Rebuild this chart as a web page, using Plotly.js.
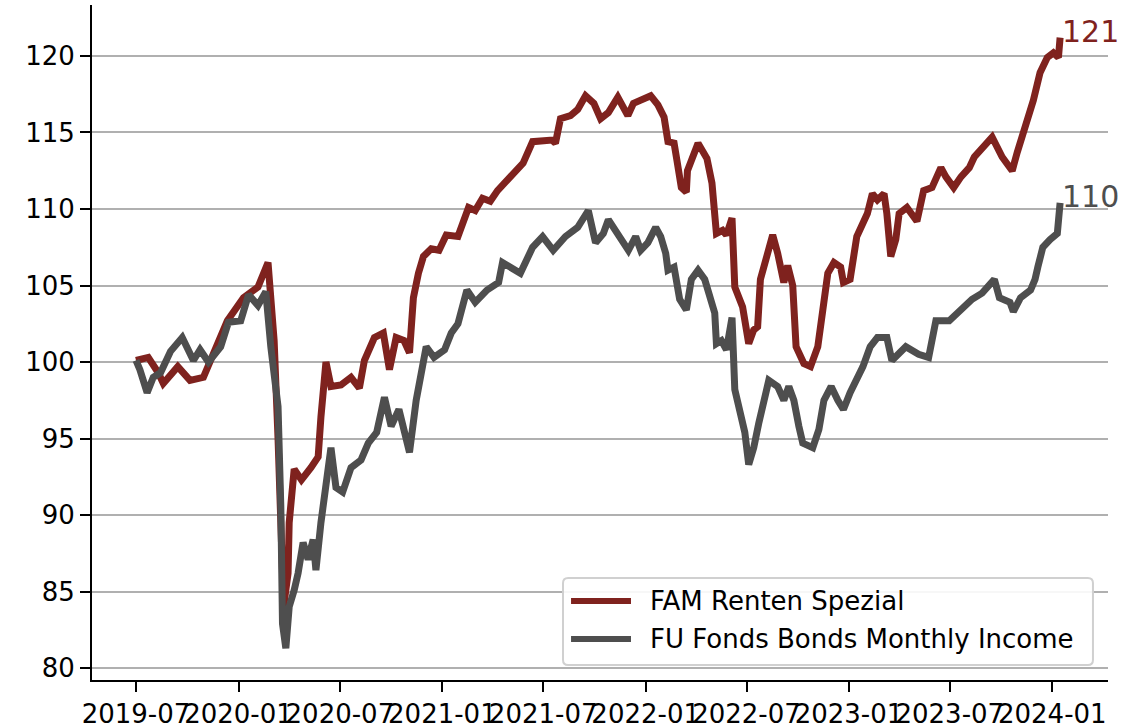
<!DOCTYPE html>
<html>
<head>
<meta charset="utf-8">
<script src="https://cdn.plot.ly/plotly-3.0.1.min.js"></script>
<style>
  html, body { margin: 0; padding: 0; background: #fff; }
  #chart { width: 1147px; height: 727px; }
</style>
</head>
<body>
<div id="chart"></div>
<script>
// FAM Renten Spezial (indexed to 100)
const famDates = [
  '2019-07-01', '2019-07-23', '2019-08-10', '2019-08-19', '2019-09-14', '2019-10-06', '2019-10-30',
  '2019-11-17', '2019-12-12', '2020-01-10', '2020-02-05', '2020-02-23', '2020-03-05', '2020-03-12',
  '2020-03-19', '2020-03-22', '2020-03-30', '2020-04-01', '2020-04-10', '2020-04-23', '2020-05-10',
  '2020-05-23', '2020-05-28', '2020-06-06', '2020-06-15', '2020-07-03', '2020-07-21', '2020-08-05',
  '2020-08-14', '2020-09-01', '2020-09-17', '2020-09-28', '2020-10-10', '2020-10-24', '2020-11-03',
  '2020-11-10', '2020-11-19', '2020-11-28', '2020-12-12', '2020-12-26', '2021-01-08', '2021-01-29',
  '2021-02-17', '2021-03-01', '2021-03-14', '2021-03-28', '2021-04-10', '2021-04-28', '2021-05-12',
  '2021-05-26', '2021-06-12', '2021-06-30', '2021-07-17', '2021-07-23', '2021-08-01', '2021-08-19',
  '2021-09-01', '2021-09-15', '2021-09-30', '2021-10-12', '2021-10-26', '2021-11-12', '2021-11-30',
  '2021-12-10', '2022-01-10', '2022-01-23', '2022-02-03', '2022-02-10', '2022-02-21', '2022-02-26',
  '2022-03-06', '2022-03-15', '2022-03-17', '2022-04-05', '2022-04-21', '2022-04-30', '2022-05-08',
  '2022-05-19', '2022-05-26', '2022-06-05', '2022-06-10', '2022-06-24', '2022-07-05', '2022-07-14',
  '2022-07-21', '2022-07-26', '2022-08-08', '2022-08-17', '2022-08-26', '2022-09-06', '2022-09-13',
  '2022-09-22', '2022-09-28', '2022-10-12', '2022-10-24', '2022-11-06', '2022-11-15', '2022-11-24',
  '2022-12-05', '2022-12-17', '2022-12-22', '2023-01-03', '2023-01-15', '2023-02-03', '2023-02-12',
  '2023-02-21', '2023-03-05', '2023-03-10', '2023-03-17', '2023-03-26', '2023-04-01', '2023-04-15',
  '2023-05-03', '2023-05-15', '2023-05-30', '2023-06-15', '2023-06-24', '2023-07-08', '2023-07-21',
  '2023-08-05', '2023-08-14', '2023-09-01', '2023-09-15', '2023-10-03', '2023-10-21', '2023-10-30',
  '2023-11-13', '2023-11-28', '2023-12-10', '2023-12-23', '2024-01-03', '2024-01-12', '2024-01-15'
];
const famValues = [
  100.1, 100.3, 99.3, 98.6, 99.7, 98.8, 99.0,
  100.6, 102.7, 104.2, 104.9, 106.5, 101.4, 95.0,
  86.0, 84.0, 86.2, 89.5, 93.0, 92.3, 93.1,
  93.8, 96.4, 100.0, 98.4, 98.5, 99.0, 98.3,
  100.1, 101.6, 101.9, 99.5, 101.6, 101.4, 100.6,
  104.2, 105.8, 106.9, 107.4, 107.3, 108.3, 108.2,
  110.1, 109.9, 110.7, 110.5, 111.2, 111.9, 112.5,
  113.0, 114.4, 114.4, 114.5, 114.3, 115.9, 116.1,
  116.5, 117.4, 116.9, 115.9, 116.3, 117.3, 116.1,
  116.9, 117.4, 116.8, 116.0, 114.4, 114.3, 113.2,
  111.4, 111.1, 112.5, 114.3, 113.3, 111.7, 108.4,
  108.6, 108.3, 109.4, 104.9, 103.6, 101.2, 102.1,
  102.3, 105.4, 107.1, 108.3, 107.1, 105.2, 106.3,
  105.0, 101.0, 99.9, 99.7, 101.0, 103.4, 105.8,
  106.5, 106.2, 105.2, 105.4, 108.2, 109.7, 111.0,
  110.6, 111.0, 109.7, 106.9, 108.0, 109.7, 110.1,
  109.2, 111.2, 111.4, 112.7, 112.1, 111.4, 112.1,
  112.7, 113.4, 114.1, 114.7, 113.4, 112.5, 113.7,
  115.2, 117.1, 118.9, 119.9, 120.2, 119.9, 121.2
];

// FU Fonds Bonds Monthly Income (indexed to 100)
const fuDates = [
  '2019-07-01', '2019-07-08', '2019-07-21', '2019-08-01', '2019-08-14', '2019-09-01', '2019-09-22',
  '2019-10-01', '2019-10-12', '2019-10-24', '2019-11-08', '2019-11-30', '2019-12-14', '2020-01-05',
  '2020-01-19', '2020-02-05', '2020-02-19', '2020-02-28', '2020-03-12', '2020-03-17', '2020-03-20',
  '2020-03-26', '2020-04-01', '2020-04-10', '2020-04-17', '2020-04-26', '2020-05-05', '2020-05-14',
  '2020-05-19', '2020-05-28', '2020-06-06', '2020-06-15', '2020-06-24', '2020-07-06', '2020-07-21',
  '2020-08-08', '2020-08-21', '2020-09-05', '2020-09-19', '2020-10-01', '2020-10-15', '2020-11-03',
  '2020-11-15', '2020-12-03', '2020-12-17', '2021-01-05', '2021-01-17', '2021-01-29', '2021-02-14',
  '2021-03-01', '2021-03-22', '2021-04-12', '2021-04-19', '2021-05-03', '2021-05-21', '2021-06-12',
  '2021-06-30', '2021-07-19', '2021-08-10', '2021-09-01', '2021-09-20', '2021-10-03', '2021-10-17',
  '2021-10-26', '2021-11-12', '2021-12-01', '2021-12-14', '2021-12-23', '2022-01-05', '2022-01-19',
  '2022-01-28', '2022-02-06', '2022-02-10', '2022-02-21', '2022-03-03', '2022-03-15', '2022-03-24',
  '2022-04-05', '2022-04-17', '2022-04-26', '2022-05-05', '2022-05-08', '2022-05-17', '2022-05-26',
  '2022-06-05', '2022-06-10', '2022-06-19', '2022-06-28', '2022-07-05', '2022-07-14', '2022-07-23',
  '2022-07-30', '2022-08-10', '2022-08-26', '2022-09-06', '2022-09-15', '2022-09-24', '2022-10-03',
  '2022-10-10', '2022-10-28', '2022-11-08', '2022-11-17', '2022-11-30', '2022-12-12', '2022-12-22',
  '2023-01-03', '2023-01-15', '2023-01-26', '2023-02-08', '2023-02-21', '2023-03-10', '2023-03-19',
  '2023-04-13', '2023-05-06', '2023-05-24', '2023-06-06', '2023-06-30', '2023-07-14', '2023-07-23',
  '2023-08-10', '2023-08-28', '2023-09-19', '2023-09-28', '2023-10-17', '2023-10-23', '2023-11-05',
  '2023-11-23', '2023-12-01', '2023-12-06', '2023-12-15', '2023-12-28', '2024-01-10', '2024-01-15'
];
const fuValues = [
  100.1, 99.5, 98.0, 99.0, 99.3, 100.7, 101.6,
  100.8, 100.1, 100.8, 100.0, 101.0, 102.6, 102.7,
  104.4, 103.7, 104.6, 101.0, 97.1, 90.5, 82.9,
  81.3, 84.0, 85.1, 86.2, 88.2, 87.1, 88.4,
  86.4, 89.5, 92.1, 94.4, 91.8, 91.5, 93.1,
  93.6, 94.7, 95.4, 97.7, 95.8, 96.9, 94.1,
  97.5, 101.0, 100.3, 100.8, 101.9, 102.5, 104.7,
  103.9, 104.7, 105.2, 106.5, 106.2, 105.8, 107.5,
  108.2, 107.3, 108.2, 108.8, 109.9, 107.8, 108.4,
  109.3, 108.4, 107.3, 108.2, 107.3, 107.8, 108.8,
  108.2, 107.1, 106.0, 106.2, 104.1, 103.4, 105.4,
  106.0, 105.4, 104.1, 103.2, 101.2, 101.4, 100.8,
  102.9, 98.2, 96.9, 95.4, 93.3, 94.4, 96.0,
  97.3, 98.8, 98.4, 97.5, 98.4, 97.5, 95.8,
  94.7, 94.4, 95.6, 97.5, 98.4, 97.5, 96.9,
  98.0, 98.8, 99.7, 101.0, 101.6, 101.6, 100.1,
  101.0, 100.5, 100.3, 102.7, 102.7, 103.2, 103.6,
  104.1, 104.5, 105.4, 104.2, 103.9, 103.3, 104.2,
  104.7, 105.4, 106.2, 107.5, 108.0, 108.4, 110.4
];

const seriesNames = ['FAM Renten Spezial', 'FU Fonds Bonds Monthly Income'];
const seriesColors = ['#7f221e', '#4e4e4e'];

const FONT = 'DejaVu Sans, Liberation Sans, sans-serif';

let famTrace = {
    x: famDates,
    y: famValues,
    name: seriesNames[0],
    type: 'scatter',
    mode: 'lines',
    line: { color: seriesColors[0], width: 7 },
    showlegend: false
};

let fuTrace = {
    x: fuDates,
    y: fuValues,
    name: seriesNames[1],
    type: 'scatter',
    mode: 'lines',
    line: { color: seriesColors[1], width: 7 },
    showlegend: false
};

// end-of-line value labels
let annotations = [];
[[famDates, famValues], [fuDates, fuValues]].forEach(function (s, i) {
    let n = s[0].length - 1;
    annotations.push({
        x: s[0][n],
        y: s[1][n],
        text: String(Math.round(s[1][n])),
        showarrow: false,
        xanchor: 'left',
        yanchor: 'middle',
        xshift: 0,
        yshift: 6,
        font: { family: FONT, size: 30, color: seriesColors[i] }
    });
});

// matplotlib-style legend box, drawn by hand so the line samples are long
let legX0 = 0.4636, legX1 = 0.9852, legY0 = 0.0222, legY1 = 0.1511;
let rx = 0.005, ry = 0.0075;
let shapes = [{
    type: 'path',
    xref: 'paper', yref: 'paper',
    path: 'M' + (legX0 + rx) + ',' + legY0 +
          ' L' + (legX1 - rx) + ',' + legY0 +
          ' Q' + legX1 + ',' + legY0 + ' ' + legX1 + ',' + (legY0 + ry) +
          ' L' + legX1 + ',' + (legY1 - ry) +
          ' Q' + legX1 + ',' + legY1 + ' ' + (legX1 - rx) + ',' + legY1 +
          ' L' + (legX0 + rx) + ',' + legY1 +
          ' Q' + legX0 + ',' + legY1 + ' ' + legX0 + ',' + (legY1 - ry) +
          ' L' + legX0 + ',' + (legY0 + ry) +
          ' Q' + legX0 + ',' + legY0 + ' ' + (legX0 + rx) + ',' + legY0 + ' Z',
    fillcolor: 'rgba(255,255,255,0.9)',
    line: { color: '#d0d0d0', width: 2 },
    layer: 'above'
}];
let rowY = [0.117, 0.0607];
seriesNames.forEach(function (name, i) {
    shapes.push({
        type: 'line',
        xref: 'paper', yref: 'paper',
        x0: 0.4715, x1: 0.5305, y0: rowY[i], y1: rowY[i],
        line: { color: seriesColors[i], width: 6 },
        layer: 'above'
    });
    annotations.push({
        xref: 'paper', yref: 'paper',
        x: 0.5472, y: rowY[i],
        text: name,
        showarrow: false,
        xanchor: 'left',
        yanchor: 'middle',
        font: { family: FONT, size: 26, color: '#000' }
    });
});

let layout = {
    width: 1147,
    height: 727,
    margin: { l: 92, r: 39, t: 5, b: 47 },
    paper_bgcolor: '#fff',
    plot_bgcolor: '#fff',
    font: { family: FONT, size: 26, color: '#000' },
    showlegend: false,
    xaxis: {
        type: 'date',
        range: ['2019-04-13', '2024-04-10'],
        tick0: '2019-07-01',
        dtick: 'M6',
        tickformat: '%Y-%m',
        tickangle: 0,
        showgrid: false,
        zeroline: false,
        showline: true,
        linecolor: '#000',
        linewidth: 2,
        ticks: 'outside',
        ticklen: 10,
        tickwidth: 2,
        tickcolor: '#000',
        tickfont: { family: FONT, size: 26, color: '#000' }
    },
    yaxis: {
        range: [79.22, 123.33],
        tick0: 80,
        dtick: 5,
        showgrid: true,
        gridcolor: '#b0b0b0',
        gridwidth: 2,
        zeroline: false,
        showline: true,
        linecolor: '#000',
        linewidth: 2,
        ticks: 'outside',
        ticklen: 10,
        tickwidth: 2,
        tickcolor: '#000',
        tickfont: { family: FONT, size: 26, color: '#000' }
    },
    shapes: shapes,
    annotations: annotations
};

Plotly.newPlot('chart', [famTrace, fuTrace], layout, { staticPlot: true, displayModeBar: false });
</script>
</body>
</html>
